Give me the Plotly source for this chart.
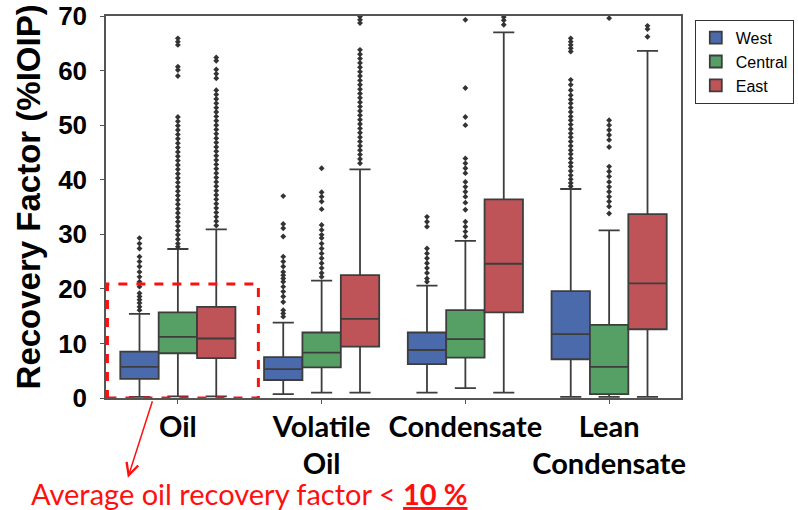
import plotly.graph_objects as go

categories = ["Oil", "Volatile<br>Oil", "Condensate", "Lean<br>Condensate"]
regions = ["West", "Central", "East"]

west_q1 = [3.5, 3.3, 6.2, 7.1]
west_med = [5.7, 5.3, 8.8, 11.7]
west_q3 = [8.5, 7.5, 12.0, 19.6]
west_lo = [0.2, 0.7, 1.0, 0.2]
west_hi = [15.4, 13.8, 20.6, 38.3]

central_q1 = [8.2, 5.6, 7.4, 0.7]
central_med = [11.2, 8.3, 10.8, 5.7]
central_q3 = [15.7, 12.0, 16.1, 13.4]
central_lo = [0.3, 1.0, 1.8, 0.2]
central_hi = [27.3, 21.5, 28.8, 30.7]

east_q1 = [7.3, 9.4, 15.7, 12.6]
east_med = [10.9, 14.5, 24.6, 21.0]
east_q3 = [16.7, 22.5, 36.4, 33.7]
east_lo = [0.3, 1.0, 1.0, 0.2]
east_hi = [30.9, 41.9, 67.0, 63.6]

west_out = [
    [29.3, 28.3, 27.4, 25.9, 25.0, 24.1, 23.1, 22.2, 21.3, 20.4, 19.2, 18.6, 18.0, 17.4, 16.7, 16.1],
    [37.0, 31.9, 31.1, 29.6, 25.9, 25.0, 24.1, 23.1, 22.5, 21.9, 21.3, 20.4, 19.5, 18.6, 17.6, 16.1, 15.5, 14.9],
    [33.2, 32.3, 31.4, 27.4, 26.5, 25.6, 24.7, 23.8, 22.9, 21.9, 21.3],
    [65.9, 65.3, 64.7, 64.1, 63.5, 58.3, 57.4, 56.4, 55.5, 54.7, 54.0, 53.2, 52.4, 51.6, 50.9,
     50.1, 49.3, 48.5, 47.8, 47.0, 46.2, 45.4, 44.7, 43.9, 43.1, 42.4, 41.6, 40.8, 40.1, 39.4, 38.8],
]
central_out = [
    [65.9, 65.3, 64.7, 60.7, 60.1, 59.0, 51.5, 50.7, 49.9, 49.1, 48.3, 47.5, 46.7, 45.9, 45.1,
     44.3, 43.5, 42.7, 41.9, 41.1, 40.3, 39.5, 38.7, 37.9, 37.1, 36.3, 35.5, 34.7, 33.9, 33.1,
     32.3, 31.5, 30.7, 29.9, 29.1, 28.3, 27.7],
    [42.1, 37.7, 36.9, 36.0, 34.6, 31.7, 30.8, 29.9, 29.3, 28.3, 27.4, 26.5, 25.6, 24.7, 23.8, 22.9, 22.2],
    [69.3, 56.8, 51.5, 50.0, 43.9, 43.0, 42.1, 41.2, 39.6, 38.7, 37.8, 36.9, 35.8, 34.5, 32.3, 31.4, 30.5, 29.6],
    [69.6, 50.9, 50.0, 49.1, 48.2, 47.3, 46.0, 42.4, 41.5, 40.6, 39.6, 38.7, 37.8, 36.9, 36.0, 35.1, 33.8],
]
east_out = [
    [62.4, 61.8, 60.2, 59.4, 58.6, 56.4, 55.6, 54.8, 54.0, 53.2, 52.4, 51.6, 50.8, 50.0, 49.2,
     48.4, 47.6, 46.8, 46.0, 45.2, 44.4, 43.6, 42.8, 42.0, 41.2, 40.4, 39.6, 38.8, 38.0, 37.2,
     36.4, 35.6, 34.8, 34.0, 33.2, 32.4, 31.6],
    [69.9, 69.3, 68.7, 63.8, 63.0, 62.2, 61.4, 60.6, 59.8, 59.0, 58.2, 57.4, 56.6, 55.8, 55.0,
     54.2, 53.4, 52.6, 51.8, 51.0, 50.2, 49.4, 48.6, 47.8, 47.0, 46.2, 45.4, 44.6, 43.8, 43.0],
    [69.8, 69.2, 68.4],
    [68.2, 67.6, 66.2],
]

y_ticks = [0, 10, 20, 30, 40, 50, 60, 70]

colors = ["#4a6aac", "#57a065", "#bf5458"]
edge = "#3d3d3d"
box_w = 0.267
offsets = [-box_w, 0.0, box_w]

stats = [
    (west_q1, west_med, west_q3, west_lo, west_hi, west_out),
    (central_q1, central_med, central_q3, central_lo, central_hi, central_out),
    (east_q1, east_med, east_q3, east_lo, east_hi, east_out),
]

fig = go.Figure()
for r, (name, col, off, st) in enumerate(zip(regions, colors, offsets, stats)):
    q1, med, q3, lo, hi, outs = st
    xs = [i + off for i in range(len(categories))]
    fig.add_trace(go.Box(
        x=xs, q1=q1, median=med, q3=q3, lowerfence=lo, upperfence=hi,
        name=name, width=box_w, fillcolor=col, whiskerwidth=0.55,
        line=dict(color=edge, width=1.8), boxpoints=False, legendgroup=name,
    ))
    ox, oy = [], []
    for i, vals in enumerate(outs):
        ox += [i + off] * len(vals)
        oy += vals
    fig.add_trace(go.Scatter(
        x=ox, y=oy, mode="markers", showlegend=False, legendgroup=name,
        marker=dict(symbol="diamond", size=4.5, color="#333333"),
    ))

fig.update_layout(
    width=798, height=510,
    margin=dict(l=106, r=117, t=16, b=112, autoexpand=False),
    paper_bgcolor="white", plot_bgcolor="white",
    showlegend=True,
    legend=dict(
        x=1.024, y=0.99, xanchor="left", yanchor="top",
        bordercolor="#333", borderwidth=1,
        font=dict(family="Liberation Sans, Arial", size=16, color="black"),
        tracegroupgap=0, itemwidth=30,
    ),
    xaxis=dict(
        range=[-0.5, 3.5], tickvals=list(range(len(categories))),
        ticktext=["<b>" + c + "</b>" for c in categories],
        tickfont=dict(family="Lato", size=29, color="black"),
        showline=True, linecolor="#555", linewidth=1.5, mirror=True,
        ticks="outside", ticklen=4, tickcolor="#555", tickangle=0,
        showgrid=False, zeroline=False, ticklabelstandoff=-2, automargin=False,
    ),
    yaxis=dict(
        range=[0, 70], tickvals=y_ticks,
        ticktext=["<b>%d</b>" % v for v in y_ticks],
        tickfont=dict(family="Liberation Sans, Arial", size=26, color="black"),
        showline=True, linecolor="#555", linewidth=1.5, mirror=True,
        ticks="outside", ticklen=4, tickcolor="#555",
        showgrid=False, zeroline=False, ticklabelstandoff=8, automargin=False,
    ),
)

fig.add_shape(type="rect", xref="x", yref="y", x0=-0.49, x1=0.56, y0=0, y1=20.9,
              line=dict(color="#ff1010", width=3, dash="dash"))

fig.add_annotation(
    xref="paper", yref="paper", x=-0.135, y=0.526, xanchor="center", yanchor="middle",
    text="<b>Recovery Factor (%IOIP)</b>", textangle=-90, showarrow=False,
    font=dict(family="Liberation Sans, Arial", size=33, color="black"),
)
fig.add_annotation(
    xref="paper", yref="paper", x=0.038, y=-0.209,
    ax=25, ay=-78, axref="pixel", ayref="pixel",
    text="", showarrow=True, arrowhead=5, arrowsize=1.6, arrowwidth=1.5,
    arrowcolor="#ff1010",
)
fig.add_annotation(
    xref="paper", yref="paper", x=0.2496, y=-0.25, xanchor="center", yanchor="middle",
    text="Average oil recovery factor &lt; <b><u>10 %</u></b>", showarrow=False,
    font=dict(family="Lato", size=29, color="#ff1010"),
)

fig.write_html("out.html")
